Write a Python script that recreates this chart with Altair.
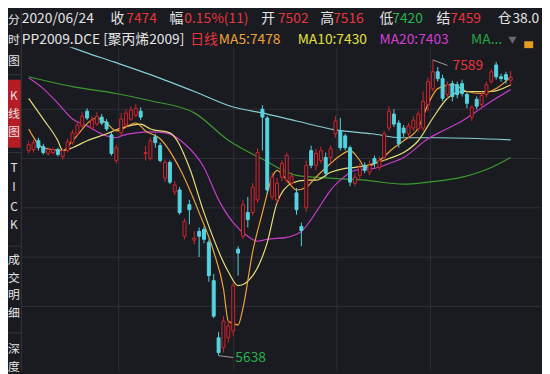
import altair as alt
import pandas as pd

# ---------------- data (daily K-line, PP2009) ----------------
opens = [6991, 6998, 7056, 7017, 6972, 6978, 6998, 6952, 6991, 7043,
         7102, 7154, 7251, 7140, 7166, 7212, 7180, 7095, 6926, 7108,
         7160, 7199, 7225, 7251, 6972, 6939, 7082, 7024, 6809, 6913,
         6718, 6731, 6426, 6634, 6400, 6458, 6471, 6386, 6133, 5756,
         5691, 5756, 5802, 6341, 6426, 6582, 6582, 6666, 7264, 7206,
         6686, 6666, 6816, 6796, 6776, 6712, 6490, 6614, 6991, 6894,
         6926, 6946, 6946, 7102, 7121, 7088, 7010, 6776, 6828, 6894,
         6848, 6939, 6880, 6946, 7140, 7232, 7173, 7140, 7102, 7140,
         7134, 7140, 7296, 7400, 7511, 7466, 7361, 7433, 7426, 7433,
         7361, 7212, 7329, 7296, 7361, 7446, 7556, 7478, 7492, 7455]
highs = [7056, 7062, 7076, 7036, 7010, 7010, 7010, 7004, 7069, 7128,
         7186, 7244, 7270, 7218, 7244, 7232, 7199, 7114, 7030, 7238,
         7264, 7284, 7296, 7277, 7024, 7076, 7102, 7043, 6932, 6926,
         6790, 6750, 6542, 6666, 6458, 6484, 6490, 6406, 6178, 5795,
         5899, 5873, 6120, 6360, 6666, 6686, 6776, 7004, 7290, 7218,
         6848, 6809, 6926, 6978, 6848, 6744, 6516, 6926, 7024, 7004,
         7017, 6978, 7024, 7218, 7206, 7102, 7024, 6842, 6906, 6913,
         6926, 6958, 6952, 7121, 7284, 7264, 7192, 7160, 7173, 7218,
         7251, 7381, 7472, 7589, 7543, 7492, 7446, 7452, 7446, 7459,
         7381, 7290, 7348, 7381, 7446, 7530, 7576, 7498, 7511, 7516]
lows = [6972, 6978, 6991, 6965, 6958, 6965, 6952, 6932, 6978, 7030,
        7088, 7140, 7192, 7128, 7154, 7160, 7121, 6958, 6906, 7088,
        7140, 7186, 7212, 7192, 6926, 6926, 7010, 6913, 6783, 6770,
        6698, 6568, 6406, 6504, 6374, 6289, 6380, 6126, 5886, 5638,
        5658, 5724, 5769, 6166, 6406, 6484, 6562, 6646, 6991, 6705,
        6666, 6640, 6790, 6776, 6757, 6568, 6360, 6588, 6874, 6861,
        6906, 6816, 6906, 7076, 6991, 6991, 6757, 6757, 6796, 6842,
        6828, 6880, 6861, 6926, 7121, 7147, 7010, 7082, 7076, 7121,
        7114, 7121, 7251, 7381, 7446, 7316, 7336, 7316, 7336, 7348,
        7270, 7186, 7264, 7277, 7342, 7433, 7459, 7446, 7433, 7420]
closes = [7030, 7043, 7010, 6978, 6998, 6998, 6965, 6991, 7050, 7108,
          7160, 7218, 7206, 7192, 7218, 7173, 7134, 6972, 7010, 7199,
          7238, 7258, 7270, 7212, 6978, 7056, 7043, 6926, 6913, 6783,
          6764, 6582, 6523, 6601, 6412, 6426, 6406, 6166, 5899, 5658,
          5866, 5834, 6100, 6315, 6634, 6536, 6750, 6978, 7212, 6731,
          6816, 6776, 6906, 6958, 6822, 6601, 6464, 6894, 6894, 6972,
          6991, 6842, 7004, 7186, 7010, 7010, 6783, 6816, 6880, 6861,
          6894, 6906, 6926, 7102, 7251, 7166, 7036, 7108, 7154, 7192,
          7232, 7316, 7446, 7511, 7466, 7336, 7426, 7348, 7361, 7368,
          7303, 7277, 7284, 7355, 7426, 7511, 7478, 7466, 7459, 7474]

# moving averages (candle index, value)
ma5_idx = [0, 3, 7, 9, 14, 16, 18, 22, 24, 27, 31, 35, 38, 40, 41, 43, 44, 46, 48, 50,
           51, 53, 55, 57, 59, 62, 64, 66, 68, 69, 72, 75, 77, 80, 82, 84, 87, 90, 93, 96, 99]
ma5_val = [7134, 7010, 6991, 7056, 7206, 7173, 7121, 7173, 7121, 7069, 6874, 6582, 6324, 6081,
           5866, 5841, 5951, 6324, 6582, 6816, 6861, 6796, 6731, 6750, 6816, 6906, 6958, 6991,
           6926, 6880, 6926, 7010, 7056, 7140, 7296, 7400, 7426, 7381, 7368, 7400, 7478]
ma10_idx = [0, 3, 6, 7, 9, 12, 16, 19, 23, 25, 29, 33, 36, 41, 43, 46, 49, 51, 54, 57, 59,
            62, 65, 67, 71, 74, 77, 80, 83, 86, 89, 92, 95, 99]
ma10_val = [7336, 7199, 7056, 6991, 7010, 7056, 7102, 7140, 7166, 7134, 7108, 6880, 6582, 6192,
            6100, 6166, 6386, 6646, 6776, 6796, 6796, 6848, 6874, 6880, 6906, 6939, 6978, 7056,
            7206, 7336, 7381, 7381, 7381, 7426]
ma20_idx = [0, 3, 6, 9, 12, 16, 18, 19, 22, 25, 28, 32, 36, 39, 42, 45, 47, 49, 53, 56, 58,
            60, 62, 64, 67, 71, 74, 77, 82, 85, 89, 92, 95, 99]
ma20_val = [7472, 7400, 7303, 7199, 7154, 7088, 7076, 7088, 7108, 7114, 7108, 7036, 6880, 6666,
            6516, 6426, 6393, 6406, 6419, 6458, 6536, 6634, 6731, 6796, 6861, 6874, 6906, 6946,
            7069, 7121, 7186, 7251, 7316, 7394]
ma60_idx = [0, 9, 18, 25, 34, 41, 48, 55, 62, 69, 77, 82, 89, 95, 99]
ma60_val = [7478, 7413, 7368, 7320, 7240, 7060, 6935, 6828, 6809, 6796, 6770, 6783, 6816, 6880, 6946]
ma120_idx = [7, 11.5, 17.5, 25, 35, 41.5, 49, 55, 63, 70.5, 76.5, 84, 99]
ma120_val = [7693, 7641, 7576, 7492, 7368, 7284, 7232, 7186, 7128, 7102, 7076, 7076, 7062]

month_breaks = [18.5, 42.1, 63.3, 82.5]

# ---------------- styles ----------------
BG = "#1a1b21"
GRID = "#2f3037"
RED = "#d2262e"
CYAN = "#55d3e1"
TXT_RED = "#e8343c"
TXT_GREEN = "#27b24a"
WHITE = "#e4e4e4"
C_MA5 = "#eea23a"
C_MA10 = "#e6df78"
C_MA20 = "#c63cc9"
C_MA60 = "#3c9a2d"
C_MA120 = "#86cfd4"
FONT = "Noto Sans CJK SC"

n = len(opens)
df = pd.DataFrame({"i": list(range(n)), "o": opens, "h": highs, "l": lows, "c": closes})
df["dir"] = ["up" if c >= o else "down" for o, c in zip(opens, closes)]

xs = alt.Scale(domain=[-0.4, 104.4], nice=False, zero=False)
ys = alt.Scale(domain=[5535, 7673.5], nice=False, zero=False)
X = alt.X("i:Q", scale=xs, axis=None)

lo, hi = min(lows), max(highs)
grid_df = pd.DataFrame({"p": [lo + k * (hi - lo) / 6 for k in range(1, 6)]})
hgrid = alt.Chart(grid_df).mark_rule(color=GRID, strokeWidth=1).encode(
    y=alt.Y("p:Q", scale=ys, axis=None))
vgrid = alt.Chart(pd.DataFrame({"i": month_breaks})).mark_rule(color=GRID, strokeWidth=1).encode(x=X)

wicks = alt.Chart(df).mark_rule(strokeWidth=1).encode(
    x=X,
    y=alt.Y("l:Q", scale=ys, axis=None), y2="h:Q",
    color=alt.Color("dir:N", scale=alt.Scale(domain=["up", "down"], range=[RED, CYAN]), legend=None))
up_bodies = alt.Chart(df).transform_filter(alt.datum.dir == "up").mark_bar(
    size=3, fill=BG, stroke=RED, strokeWidth=1).encode(
    x=X, y=alt.Y("o:Q", scale=ys, axis=None), y2="c:Q")
dn_bodies = alt.Chart(df).transform_filter(alt.datum.dir == "down").mark_bar(
    size=3, color=CYAN, stroke=CYAN, strokeWidth=1).encode(
    x=X, y=alt.Y("o:Q", scale=ys, axis=None), y2="c:Q")


def ma_line(idx, val, color, width=1.2):
    d = pd.DataFrame({"i": idx, "v": val})
    return alt.Chart(d).mark_line(color=color, strokeWidth=width, interpolate="monotone", clip=True).encode(
        x=X, y=alt.Y("v:Q", scale=ys, axis=None))


lines = [ma_line(ma120_idx, ma120_val, C_MA120), ma_line(ma60_idx, ma60_val, C_MA60),
         ma_line(ma20_idx, ma20_val, C_MA20), ma_line(ma10_idx, ma10_val, C_MA10),
         ma_line(ma5_idx, ma5_val, C_MA5)]

# max / min annotations
imax = highs.index(hi)
imin = lows.index(lo)
ann = pd.DataFrame({"i": [imax, imin], "p": [hi, lo], "t": [str(hi), str(lo)],
                    "k": ["max", "min"]})
ann_rule = alt.Chart(ann).transform_calculate(
    i2="datum.i + 3",
    p2="datum.k == 'max' ? datum.p - 36 : datum.p - 12").mark_rule(
    color="#a0a0a0", strokeWidth=1).encode(
    x=X, x2="i2:Q", y=alt.Y("p:Q", scale=ys, axis=None), y2="p2:Q")
ann_max = alt.Chart(ann).transform_filter(alt.datum.k == "max").mark_text(
    align="left", baseline="middle", dx=20, dy=6, font=FONT, fontSize=14, color=TXT_RED).encode(
    x=X, y=alt.Y("p:Q", scale=ys, axis=None), text="t:N")
ann_min = alt.Chart(ann).transform_filter(alt.datum.k == "min").mark_text(
    align="left", baseline="middle", dx=17, dy=2, font=FONT, fontSize=14, color=TXT_GREEN).encode(
    x=X, y=alt.Y("p:Q", scale=ys, axis=None), text="t:N")

one = pd.DataFrame({"a": [0]})


def txt(s, x, y, color, size=14, align="left"):
    return alt.Chart(one).mark_text(text=s, align=align, baseline="middle", font=FONT,
                                    fontSize=size, color=color).encode(
        x=alt.value(x), y=alt.value(y))


R1 = -29
R2 = -7
header = [
    txt("2020/06/24", 0, R1, WHITE), txt("收", 90, R1, WHITE), txt("7474", 106, R1, TXT_RED),
    txt("幅", 150, R1, WHITE), txt("0.15%(11)", 165, R1, TXT_RED),
    txt("开", 243, R1, WHITE), txt("7502", 260, R1, TXT_RED),
    txt("高", 303, R1, WHITE), txt("7516", 316, R1, TXT_RED),
    txt("低", 363, R1, WHITE), txt("7420", 376, R1, TXT_GREEN),
    txt("结", 421, R1, WHITE), txt("7459", 435, R1, TXT_RED),
    txt("仓", 483, R1, WHITE), txt("38.0", 498, R1, WHITE),
    txt("PP2009.DCE [聚丙烯2009]", 0, R2, WHITE), txt("日线", 171, R2, TXT_RED),
    txt("MA5:7478", 200, R2, C_MA5), txt("MA10:7430", 280, R2, "#e2e040"),
    txt("MA20:7403", 363, R2, "#d23fd4"), txt("MA...", 456, R2, "#22a843"),
]
tri = alt.Chart(one).mark_point(shape="triangle-down", filled=True, size=70, color="#8a8a8a").encode(
    x=alt.value(498), y=alt.value(-7))
lock = alt.Chart(one).mark_rect(color="#e89a1c").encode(
    x=alt.value(510), x2=alt.value(519), y=alt.value(-6), y2=alt.value(1))

# left sidebar
kbox = alt.Chart(one).mark_rect(color="#b51d24").encode(
    x=alt.value(-14), x2=alt.value(-1), y=alt.value(33), y2=alt.value(102))
side_border = alt.Chart(one).mark_rule(color="#36373e").encode(
    x=alt.value(-0.5), y=alt.value(-37), y2=alt.value(329))
side_seps = [alt.Chart(one).mark_rule(color="#36373e").encode(
    x=alt.value(-14), x2=alt.value(-1), y=alt.value(yv)) for yv in (28, 107, 202, 290)]
side_chars = [("分", -28), ("时", -7), ("图", 14), ("K", 50), ("线", 68), ("图", 86),
              ("T", 123), ("I", 142), ("C", 162), ("K", 181),
              ("成", 216), ("交", 234), ("明", 252), ("细", 270), ("深", 306), ("度", 325)]
side = [txt(ch, -8, yv, WHITE, size=12, align="center") for ch, yv in side_chars]

chart = alt.layer(
    hgrid, vgrid, *lines, wicks, up_bodies, dn_bodies, ann_rule, ann_max, ann_min,
    *header, tri, lock, kbox, side_border, *side_seps, *side
).properties(
    width=528, height=329,
    autosize=alt.AutoSizeParams(type="none"),
    padding={"left": 14, "top": 37, "right": 0, "bottom": 0},
).configure(background=BG).configure_view(stroke=None)

chart.save("out.html", embed_options={"renderer": "svg", "actions": False})
